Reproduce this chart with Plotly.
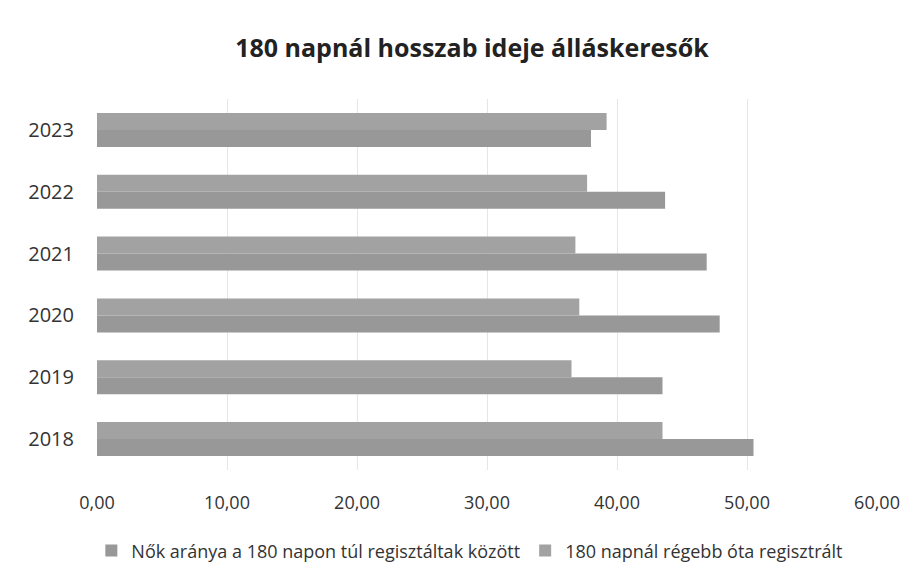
import plotly.graph_objects as go

years = ["2018", "2019", "2020", "2021", "2022", "2023"]
nok_aranya = [50.5, 43.5, 47.9, 46.9, 43.7, 38.0]
regisztralt_180 = [43.5, 36.5, 37.1, 36.8, 37.7, 39.2]
series_names = ["Nők aránya a 180 napon túl regisztáltak között", "180 napnál régebb óta regisztrált"]
x_ticks = [0, 10, 20, 30, 40, 50, 60]

fig = go.Figure()
fig.add_trace(go.Bar(y=years, x=nok_aranya, orientation="h", name=series_names[0],
                     marker=dict(color="#989898", line=dict(width=0))))
fig.add_trace(go.Bar(y=years, x=regisztralt_180, orientation="h", name=series_names[1],
                     marker=dict(color="#a2a2a2", line=dict(width=0))))

fig.update_layout(
    width=905, height=566,
    paper_bgcolor="white", plot_bgcolor="white",
    separators=", ",
    barmode="group", bargap=0.45, bargroupgap=0,
    margin=dict(l=89, r=36, t=91, b=104, autoexpand=False),
    title=dict(text="<b>180 napnál hosszab ideje álláskeresők</b>", x=0.5127, xanchor="center",
               y=0.929, yanchor="middle",
               font=dict(family="Open Sans", size=25, color="#222222")),
    font=dict(family="Open Sans", color="#333333"),
    xaxis=dict(range=[0, 60], tickvals=x_ticks, tickformat=".2f", showgrid=True,
               gridcolor="#e6e6e6", zeroline=False, showline=False, automargin=False,
               tickfont=dict(size=18, color="#333333"), ticks="", ticklabelstandoff=20),
    yaxis=dict(type="category", categoryorder="array", categoryarray=years,
               showgrid=False, showline=False, ticks="", automargin=False,
               tickfont=dict(size=20, color="#333333"), ticklabelstandoff=22),
    legend=dict(orientation="h", x=0.478, xanchor="center", y=-0.218, yanchor="middle",
                font=dict(family="Open Sans", size=18, color="#333333"), traceorder="normal",
                itemwidth=30, tracegroupgap=0),
    showlegend=True,
)

fig.write_html("out.html")
